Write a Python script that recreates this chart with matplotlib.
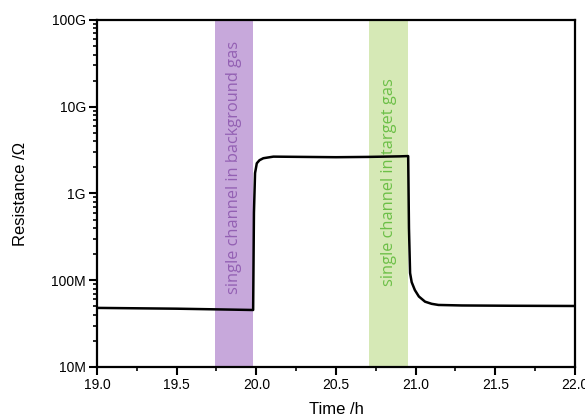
import numpy as np
import matplotlib
matplotlib.use("Agg")
import matplotlib.pyplot as plt
from matplotlib.ticker import FixedLocator, FixedFormatter, LogLocator, MultipleLocator

# resistance trace
time_h = [19.0, 19.5, 19.8, 19.98, 19.985, 19.992, 20.003, 20.02, 20.044, 20.107,
          20.3, 20.5, 20.7, 20.9, 20.953, 20.958, 20.965, 20.975, 20.995, 21.02,
          21.059, 21.1, 21.143, 21.29, 21.6, 22.0]
resistance = [4.8e7, 4.7e7, 4.6e7, 4.54e7, 6e8, 1.72e9, 2.23e9, 2.42e9, 2.55e9, 2.66e9,
              2.64e9, 2.62e9, 2.64e9, 2.68e9, 2.7e9, 4e8, 1.21e8, 9.5e7, 7.7e7, 6.5e7,
              5.66e7, 5.35e7, 5.19e7, 5.12e7, 5.08e7, 5.05e7]

bands = [(19.74, 19.98), (20.71, 20.95)]
band_colors = ["#c7a8db", "#d6e9b6"]
band_labels = ["single channel in background gas", "single channel in target gas"]
label_colors = ["#9360b3", "#6cbf47"]
label_y = [2.0e9, 1.34e9]

ytick_vals = [1e7, 1e8, 1e9, 1e10, 1e11]
ytick_labels = ["10M", "100M", "1G", "10G", "100G"]
yminor_vals = [m * 10.0**e for e in range(7, 11) for m in range(2, 10)]

plt.rcParams["font.family"] = ["Liberation Sans", "DejaVu Sans"]

fig = plt.figure(figsize=(5.85, 4.2), dpi=100)
ax = fig.add_axes([0.1658, 0.1262, 0.8171, 0.8262])

for (a, b), c, lab, lc, ly in zip(bands, band_colors, band_labels, label_colors, label_y):
    ax.axvspan(a, b, color=c, lw=0, zorder=0)
    ax.text((a + b) / 2, ly, lab, rotation=90, ha="center", va="center",
            color=lc, fontsize=11.8, family=["Open Sans", "DejaVu Sans"], zorder=1)

ax.plot(time_h, resistance, color="black", lw=1.8, zorder=3)

ax.set_yscale("log")
ax.set_xlim(19, 22)
ax.set_ylim(1e7, 1e11)
ax.yaxis.set_major_locator(FixedLocator(ytick_vals))
ax.yaxis.set_major_formatter(FixedFormatter(ytick_labels))
ax.yaxis.set_minor_locator(FixedLocator(yminor_vals))
ax.yaxis.set_minor_formatter(FixedFormatter([""] * len(yminor_vals)))
ax.xaxis.set_major_locator(MultipleLocator(0.5))
ax.xaxis.set_minor_locator(MultipleLocator(0.25))
ax.xaxis.set_major_formatter(plt.FuncFormatter(lambda v, p: f"{v:.1f}"))

for s in ax.spines.values():
    s.set_linewidth(1.6)
ax.tick_params(which="major", direction="out", length=6, width=1.5, labelsize=10, pad=2)
ax.tick_params(which="minor", direction="out", length=3, width=1.2)
ax.tick_params(top=False, right=False, which="both")

ax.set_xlabel("Time /h", fontsize=12, labelpad=7)
ax.set_ylabel("Resistance /\u03a9", fontsize=12, labelpad=17)

fig.savefig("out.png", dpi=100)
